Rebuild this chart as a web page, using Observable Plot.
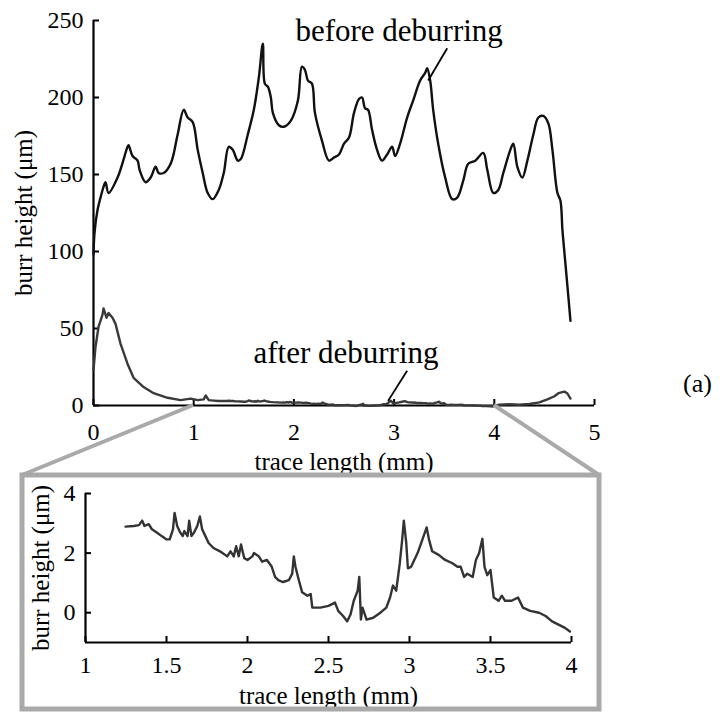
<!DOCTYPE html>
<html><head><meta charset="utf-8">
<script src="https://cdn.jsdelivr.net/npm/d3@7"></script>
<script src="https://cdn.jsdelivr.net/npm/@observablehq/plot@0.6"></script>
<style>
body{margin:0;background:#fff;}
#wrap{position:relative;width:726px;height:712px;font-family:"Liberation Serif","Times New Roman",serif;}
#wrap svg{position:absolute;overflow:visible;}
#wrap svg, #wrap svg text{font-family:"Liberation Serif","Times New Roman",serif !important;}
</style></head><body><div id="wrap"></div>
<script>
// ---- data ----
const beforeX = [0.00,0.01,0.04,0.07,0.10,0.12,0.15,0.24,0.34,0.35,0.39,0.44,0.46,0.52,0.57,0.62,0.65,0.70,0.77,0.84,0.90,0.94,0.99,1.04,1.09,1.14,1.19,1.25,1.30,1.35,1.39,1.44,1.47,1.54,1.60,1.65,1.69,1.71,1.74,1.77,1.79,1.85,1.90,1.97,2.04,2.08,2.11,2.14,2.18,2.21,2.28,2.35,2.40,2.45,2.50,2.55,2.60,2.65,2.68,2.71,2.74,2.78,2.83,2.88,2.93,2.98,3.01,3.06,3.13,3.19,3.26,3.31,3.33,3.36,3.39,3.44,3.51,3.58,3.63,3.69,3.74,3.81,3.89,3.93,3.99,4.04,4.09,4.16,4.19,4.23,4.28,4.33,4.39,4.44,4.49,4.54,4.58,4.63,4.66,4.68,4.71,4.74,4.76];
const beforeY = [98,112,127,135,142,145,138,148,168,169,162,159,153,145,148,155,151,151,157,176,192,187,184,166,151,138,134,140,151,168,166,159,160,176,192,213,235,209,207,200,190,182,181,185,198,220,218,211,209,190,172,159,161,163,170,174,190,199,200,193,192,179,166,159,163,168,162,170,187,198,211,216,219,211,192,170,148,134,135,146,157,159,164,153,138,140,151,166,170,155,148,159,176,187,188,183,166,138,133,114,92,70,55];

const afterEarlyX = [0.00,0.02,0.05,0.09,0.10,0.13,0.15,0.19,0.22,0.27,0.34,0.40,0.50,0.60,0.74,0.87,0.97,1.04,1.10,1.12,1.15,1.20];
const afterEarlyY = [23,38,51,59,63,57,60,57,53,40,27,18,12,8,5,3.5,4.5,3.5,4,6.5,3.5,3.2];
const afterTailX = [4.05,4.15,4.25,4.35,4.45,4.53,4.60,4.64,4.70,4.73,4.76];
const afterTailY = [0.5,0.8,0.5,1,2,4,6,8,9,7.8,4.5];

const insetX = [1.247,1.298,1.33,1.35,1.364,1.39,1.41,1.44,1.47,1.50,1.52,1.54,1.55,1.566,1.58,1.60,1.61,1.63,1.64,1.654,1.67,1.69,1.706,1.72,1.74,1.76,1.79,1.83,1.875,1.895,1.915,1.93,1.946,1.96,1.98,2.0,2.03,2.04,2.07,2.09,2.12,2.15,2.17,2.19,2.22,2.255,2.276,2.286,2.296,2.317,2.337,2.37,2.39,2.40,2.45,2.50,2.54,2.56,2.59,2.615,2.636,2.656,2.68,2.69,2.70,2.71,2.735,2.776,2.82,2.857,2.88,2.898,2.918,2.94,2.955,2.965,2.98,2.99,3.01,3.05,3.08,3.106,3.12,3.14,3.18,3.22,3.265,3.296,3.316,3.337,3.357,3.39,3.41,3.43,3.45,3.463,3.48,3.50,3.52,3.55,3.57,3.59,3.63,3.67,3.70,3.745,3.80,3.84,3.88,3.92,3.96,3.99];
const insetY = [2.89,2.91,2.94,3.09,2.91,2.97,2.8,2.69,2.57,2.46,2.46,2.8,3.35,2.91,2.74,2.57,2.74,2.57,3.09,2.57,2.69,2.91,3.23,2.8,2.57,2.34,2.17,2.06,1.89,2.06,1.89,2.23,1.89,2.29,1.83,1.77,1.89,2.0,1.89,1.71,1.77,1.54,1.2,1.09,1.03,1.09,1.31,1.89,1.54,1.09,0.69,0.57,0.63,0.17,0.17,0.23,0.34,0.06,-0.11,-0.29,-0.06,0.4,0.74,1.2,-0.23,0.17,-0.23,-0.17,0,0.17,0.51,0.91,0.74,1.66,2.46,3.09,2.34,1.49,1.54,2.0,2.46,2.86,2.46,2.06,1.94,1.77,1.66,1.54,1.54,1.2,1.31,1.2,1.77,2.0,2.48,1.54,1.26,1.43,0.51,0.4,0.57,0.4,0.4,0.51,0.17,0.06,0,-0.11,-0.29,-0.4,-0.51,-0.63];

const mainXTicks = [0,1,2,3,4,5];
const mainYTicks = [0,50,100,150,200,250];
const insetXTicks = [1,1.5,2,2.5,3,3.5,4];
const insetYTicks = [0,2,4];
const zoomRange = [1,4];

const xLabel = "trace length (mm)";
const yLabel = "burr height (μm)";
const annBefore = {x: 3.05, y: 243, text: "before deburring", x1: 3.53, y1: 232, x2: 3.34, y2: 211};
const annAfter = {x: 2.52, y: 34, text: "after deburring", x1: 3.13, y1: 22.5, x2: 2.94, y2: 3};
const panelTag = "(a)";

// ---- tables ----
const before = beforeX.map((x,i)=>({x, y: beforeY[i]}));
const insetData = insetX.map((x,i)=>({x, y: insetY[i]}));
const afterMain = [
  ...afterEarlyX.map((x,i)=>({x, y: afterEarlyY[i]})),
  ...insetData,
  ...afterTailX.map((x,i)=>({x, y: afterTailY[i]}))
];

const FONT = '"Liberation Serif","Times New Roman",serif';
const wrap = document.getElementById("wrap");

const main = Plot.plot({
  width: 726, height: 475,
  marginLeft: 93, marginRight: 132, marginTop: 20, marginBottom: 70,
  style: {fontFamily: FONT, fontSize: "24px", color: "#000", background: "transparent", overflow: "visible"},
  x: {domain: [0,5]},
  y: {domain: [0,250]},
  marks: [
    Plot.axisX(mainXTicks, {tickSize: 0, tickPadding: 17, label: null, fontSize: 24}),
    Plot.axisY(mainYTicks, {tickSize: 0, tickPadding: 10, label: null, fontSize: 24}),
    Plot.axisX(mainXTicks, {tickSize: -6, text: null, label: null, strokeWidth: 2}),
    Plot.axisY(mainYTicks, {tickSize: -6, text: null, label: null, strokeWidth: 2}),
    Plot.ruleY([0], {stroke: "#000", strokeWidth: 2.2}),
    Plot.ruleX([0], {stroke: "#000", strokeWidth: 2.2}),
    Plot.line(afterMain, {x: "x", y: "y", stroke: "#3a3a3a", strokeWidth: 2.4}),
    Plot.line(before, {x: "x", y: "y", stroke: "#111", strokeWidth: 2.4, curve: "catmull-rom"}),
    Plot.text([annBefore], {x: "x", y: "y", text: "text", fontSize: 31, fill: "#000"}),
    Plot.link([annBefore], {x1: "x1", y1: "y1", x2: "x2", y2: "y2", stroke: "#000", strokeWidth: 1.8}),
    Plot.text([annAfter], {x: "x", y: "y", text: "text", fontSize: 31, fill: "#000"}),
    Plot.link([annAfter], {x1: "x1", y1: "y1", x2: "x2", y2: "y2", stroke: "#000", strokeWidth: 1.8}),
    Plot.text([xLabel], {frameAnchor: "bottom", dy: 56, fontSize: 25, textAnchor: "middle", lineAnchor: "middle"}),
    Plot.text([yLabel], {frameAnchor: "left", dx: -70, rotate: -90, fontSize: 25, textAnchor: "middle", lineAnchor: "middle"}),
    Plot.text([panelTag], {frameAnchor: "bottom-right", dx: 103, dy: -22, fontSize: 26, textAnchor: "middle", lineAnchor: "middle"})
  ]
});
main.style.left = "0px"; main.style.top = "0px";
wrap.appendChild(main);

const inset = Plot.plot({
  width: 620, height: 237,
  marginLeft: 85, marginRight: 49, marginTop: 18, marginBottom: 70,
  style: {fontFamily: FONT, fontSize: "24px", color: "#000", background: "transparent", overflow: "visible"},
  x: {domain: [1,4]},
  y: {domain: [-1,4]},
  marks: [
    Plot.axisX(insetXTicks, {tickSize: 0, tickPadding: 13, label: null, fontSize: 24, tickFormat: d => String(d)}),
    Plot.axisY(insetYTicks, {tickSize: 0, tickPadding: 10, label: null, fontSize: 24}),
    Plot.axisX(insetXTicks, {tickSize: -6, text: null, label: null, strokeWidth: 2}),
    Plot.axisY(insetYTicks, {tickSize: -6, text: null, label: null, strokeWidth: 2}),
    Plot.ruleY([-1], {stroke: "#000", strokeWidth: 2.2}),
    Plot.ruleX([1], {stroke: "#000", strokeWidth: 2.2}),
    Plot.line(insetData, {x: "x", y: "y", stroke: "#333", strokeWidth: 2.4}),
    Plot.text([xLabel], {frameAnchor: "bottom", dy: 53, fontSize: 25, textAnchor: "middle", lineAnchor: "middle"}),
    Plot.text([yLabel], {frameAnchor: "left", dx: -45, rotate: -90, fontSize: 25, textAnchor: "middle", lineAnchor: "middle"})
  ]
});
inset.style.left = "0px"; inset.style.top = "475px";
wrap.appendChild(inset);

// overlay: zoom box and connectors
const sx = main.scale("x"), sy = main.scale("y");
const box = {x: 22, y: 475, w: 577, h: 234};
const ov = d3.create("svg").attr("width", 726).attr("height", 712)
  .style("left", "0px").style("top", "0px").style("pointer-events", "none");
ov.append("rect").attr("x", box.x).attr("y", box.y).attr("width", box.w).attr("height", box.h)
  .attr("fill", "none").attr("stroke", "#a9a9a9").attr("stroke-width", 5);
const y0 = sy.apply(0);
ov.append("line").attr("x1", sx.apply(zoomRange[0])).attr("y1", y0).attr("x2", box.x).attr("y2", box.y)
  .attr("stroke", "#a9a9a9").attr("stroke-width", 4);
ov.append("line").attr("x1", sx.apply(zoomRange[1])).attr("y1", y0).attr("x2", box.x + box.w).attr("y2", box.y)
  .attr("stroke", "#a9a9a9").attr("stroke-width", 4);
wrap.appendChild(ov.node());
</script></body></html>
